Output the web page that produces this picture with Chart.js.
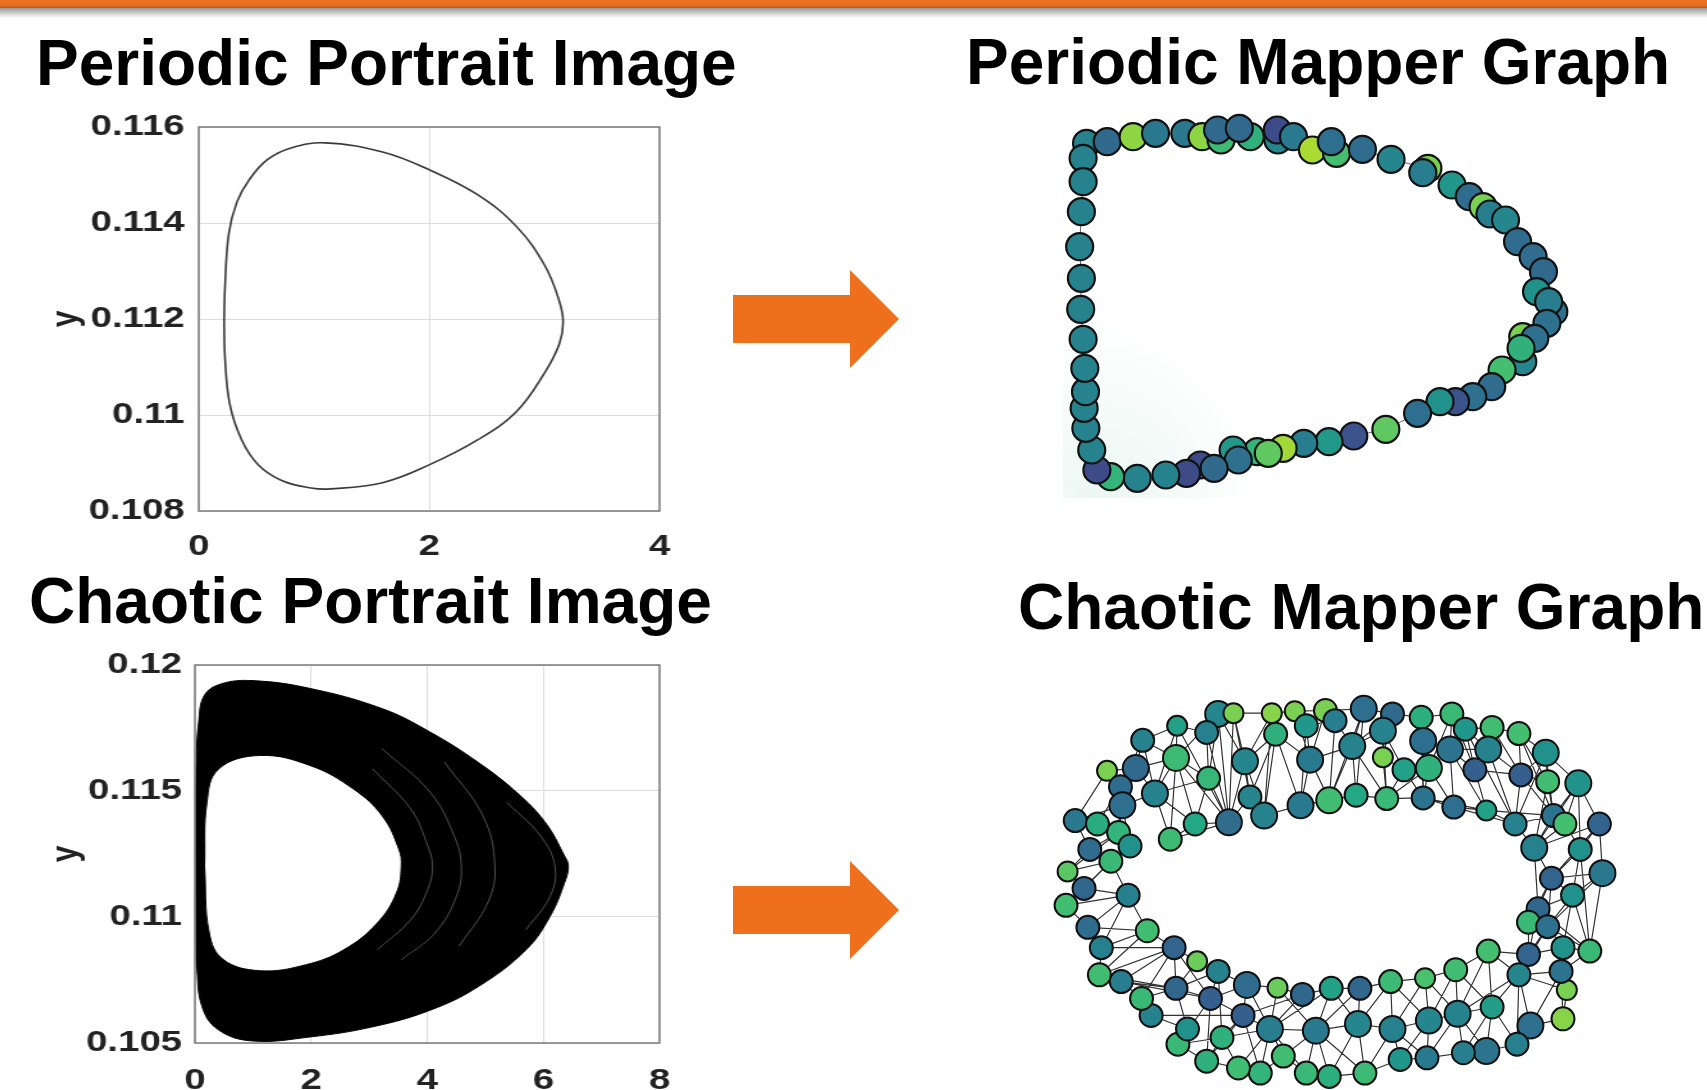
<!DOCTYPE html>
<html>
<head>
<meta charset="utf-8">
<script src="https://cdn.jsdelivr.net/npm/chart.js@4.4.1/dist/chart.umd.min.js"></script>
<style>
    html, body { margin: 0; padding: 0; background: #fff; }
    body { width: 1707px; height: 1090px; position: relative; overflow: hidden; font-family: 'Liberation Sans', Arial, sans-serif; }
    .bar { position: absolute; left: 0; top: 0; width: 1707px; height: 8px; background: linear-gradient(#ec7424, #e56f1f 70%, #b65a1c); }
    .shadow { position: absolute; left: 0; top: 8px; width: 1707px; height: 10px; background: linear-gradient(rgba(110,110,110,0.7), rgba(255,255,255,0)); }
    .title { position: absolute; font-weight: bold; font-size: 64px; line-height: 64px; white-space: nowrap; color: #000; }
    .stretch { position: absolute; transform: scaleX(1.28); transform-origin: 0 0; }
    .graph { position: absolute; }
    .glow { position: absolute; left: 1063px; top: 320px; width: 200px; height: 178px; background: radial-gradient(ellipse at 20% 100%, rgba(210,237,225,0.45), rgba(255,255,255,0) 70%); }
    svg.arrows { position: absolute; left: 0; top: 0; }
</style>
</head>
<body>
<div class="bar"></div>
<div class="shadow"></div>

<div class="title" style="left:36px; top:31px;">Periodic Portrait Image</div>
<div class="title" style="left:966px; top:30px;">Periodic Mapper Graph</div>
<div class="title" style="left:29px; top:569px;">Chaotic Portrait Image</div>
<div class="title" style="left:1018px; top:575px;">Chaotic Mapper Graph</div>

<div class="stretch" style="left:40px; top:100px;"><canvas id="periodicChart" width="500" height="470"></canvas></div>
<div class="stretch" style="left:40px; top:640px;"><canvas id="chaoticChart" width="500" height="450"></canvas></div>

<div class="glow"></div>
<div class="graph" style="left:1040px; top:100px;"><canvas id="periodicGraph" width="540" height="410"></canvas></div>
<div class="graph" style="left:1040px; top:680px;"><canvas id="chaoticGraph" width="600" height="410"></canvas></div>

<svg class="arrows" width="1707" height="1090">
    <polygon fill="#ee701d" points="733,295 850,295 850,270 899,319 850,368 850,343 733,343"/>
    <polygon fill="#ee701d" points="733,886 850,886 850,861 899,910 850,959 850,934 733,934"/>
</svg>

<script>
// ---- Periodic portrait: one closed orbit ----
const periodicX = [0.22, 0.228, 0.261, 0.332, 0.435, 0.601, 0.808, 1.098, 1.596, 2.0, 2.42, 2.757, 3.005, 3.13, 3.163,
    3.13, 3.005, 2.757, 2.42, 2.0, 1.596, 1.14, 0.974, 0.725, 0.518, 0.373, 0.27, 0.228, 0.22];
const periodicY = [0.11193, 0.11267, 0.11378, 0.11444, 0.11489, 0.11533, 0.11557, 0.11567, 0.11548, 0.11511, 0.11459, 0.11393, 0.11311, 0.11237, 0.11193,
    0.11148, 0.11089, 0.11007, 0.10948, 0.10896, 0.10859, 0.10846, 0.10848, 0.10863, 0.10896, 0.10948, 0.11022, 0.11119, 0.11193];
const periodicXTicks = [0, 2, 4];
const periodicXLabels = ['0', '2', '4'];
const periodicYTicks = [0.108, 0.110, 0.112, 0.114, 0.116];
const periodicYLabels = ['0.108', '0.11', '0.112', '0.114', '0.116'];

// ---- Chaotic portrait: outer and inner edge of the band, plus a few light streaks ----
const chaoticOuterX = [0.025, 0.017, 0.025, 0.066, 0.165, 0.45, 0.992, 1.983, 3.223, 4.05, 4.876, 5.537, 6.033, 6.364, 6.43,
    6.364, 6.116, 5.702, 4.876, 4.05, 3.058, 1.983, 0.992, 0.413, 0.124, 0.025];
const chaoticOuterY = [0.10816, 0.11215, 0.11614, 0.11774, 0.1188, 0.11925, 0.11938, 0.11907, 0.11827, 0.11734, 0.11614, 0.11495, 0.11375, 0.11242, 0.11202,
    0.11136, 0.11003, 0.1087, 0.10723, 0.1063, 0.10564, 0.10524, 0.10508, 0.10551, 0.10644, 0.10816];
const chaoticInnerX = [0.165, 0.207, 0.413, 1.116, 1.983, 2.727, 3.223, 3.512, 3.554, 3.471, 3.14, 2.562, 1.901, 1.116, 0.496, 0.248, 0.165];
const chaoticInnerY = [0.11202, 0.11455, 0.11588, 0.11641, 0.11601, 0.11508, 0.11402, 0.11269, 0.11202, 0.11096, 0.10976, 0.1087, 0.1081, 0.10787, 0.1083, 0.10936, 0.11202];
const streak1X = [3.058, 3.719, 4.008, 4.091, 4.008, 3.719, 3.14];
const streak1Y = [0.11588, 0.11428, 0.11282, 0.11202, 0.11109, 0.1099, 0.1087];
const streak2X = [3.223, 4.05, 4.463, 4.587, 4.504, 4.132, 3.554];
const streak2Y = [0.11668, 0.11495, 0.11322, 0.11202, 0.11082, 0.10936, 0.1083];
const streak3X = [4.298, 4.959, 5.165, 5.041, 4.545];
const streak3Y = [0.11614, 0.11402, 0.11202, 0.11056, 0.10883];
const streak4X = [5.372, 5.95, 6.198, 6.116, 5.702];
const streak4Y = [0.11455, 0.11322, 0.11202, 0.11082, 0.1095];
const chaoticXTicks = [0, 2, 4, 6, 8];
const chaoticXLabels = ['0', '2', '4', '6', '8'];
const chaoticYTicks = [0.105, 0.110, 0.115, 0.120];
const chaoticYLabels = ['0.105', '0.11', '0.115', '0.12'];

// ---- Periodic mapper graph: node layout, colour value (0-1), nodes chained in a ring ----
const periodicNodeX = [135, 195, 125, 270, 335, 420, 470, 525, 515, 610, 578, 690, 688, 735, 790, 860, 845, 935, 1018, 1125,
    1110, 1195, 1245, 1285, 1305, 1350, 1385, 1430, 1460, 1440, 1490, 1475, 1470, 1400, 1435, 1400, 1395, 1340, 1310, 1255,
    1205, 1160, 1095, 1003, 910, 838, 765, 705, 630, 662, 560, 575, 465, 505, 425, 365, 282, 205, 165, 150,
    133, 128, 132, 130, 125, 118, 120, 115, 120, 125];
const periodicNodeY = [130, 125, 175, 110, 100, 100, 110, 120, 90, 110, 85, 120, 90, 110, 150, 160, 125, 148, 178, 205,
    218, 255, 290, 320, 342, 360, 425, 470, 515, 575, 635, 605, 670, 710, 715, 785, 745, 810, 860, 890,
    905, 905, 940, 988, 1008, 1025, 1030, 1045, 1055, 1060, 1050, 1080, 1095, 1105, 1120, 1125, 1135, 1130, 1110, 1050,
    985, 925, 875, 805, 718, 628, 535, 440, 335, 245];
const periodicNodeVal = [0.44, 0.34, 0.44, 0.83, 0.40, 0.40, 0.83, 0.68, 0.34, 0.64, 0.34, 0.46, 0.23, 0.41, 0.87, 0.70, 0.36, 0.35, 0.46, 0.80,
    0.42, 0.52, 0.35, 0.80, 0.42, 0.46, 0.35, 0.35, 0.34, 0.50, 0.37, 0.42, 0.37, 0.80, 0.37, 0.46, 0.64, 0.70, 0.35, 0.37,
    0.25, 0.50, 0.36, 0.75, 0.25, 0.53, 0.42, 0.86, 0.65, 0.75, 0.53, 0.37, 0.23, 0.34, 0.23, 0.44, 0.44, 0.65, 0.23, 0.44,
    0.44, 0.44, 0.44, 0.44, 0.44, 0.44, 0.44, 0.44, 0.44, 0.44];

// ---- Chaotic mapper graph: node layout, colour value, cluster size, edges ----
const chaoticNodeX = [465, 505, 605, 665, 745, 845, 920, 995, 1075, 1110, 1180, 1250, 1320, 1405, 1460, 1468, 1435, 1375, 1365, 1280,
    1245, 1165, 1105, 1010, 940, 848, 755, 695, 635, 575, 518, 435, 360, 385, 290, 265, 212, 155, 160, 125,
    68, 115, 72, 130, 92, 175, 268, 358, 435, 250, 210, 215, 150, 205, 235, 185, 230, 300, 355, 440,
    340, 405, 493, 535, 548, 585, 615, 680, 705, 695, 770, 755, 815, 825, 895, 895, 905, 950, 1000, 1015,
    1000, 1070, 1080, 1135, 1165, 1170, 1240, 1255, 1325, 1340, 1370, 1290, 1410, 1335, 1390, 1300, 1275, 1325, 1365, 1275,
    1250, 1360, 1170, 1085, 1005, 915, 835, 760, 685, 620, 540, 465, 410, 350, 355, 445, 530, 600, 720, 830,
    920, 1015, 1090, 1180, 475, 280];
const chaoticNodeY = [100, 98, 98, 92, 90, 85, 100, 110, 100, 145, 140, 158, 215, 305, 425, 570, 800, 915, 1000, 1020,
    1075, 1095, 1100, 1115, 1120, 1160, 1170, 1160, 1110, 1160, 1145, 1125, 1075, 1030, 990, 940, 890, 870, 790, 730,
    665, 615, 565, 500, 415, 268, 178, 135, 155, 260, 315, 370, 425, 450, 490, 535, 635, 335, 230, 290,
    470, 425, 420, 240, 345, 400, 160, 370, 235, 135, 120, 355, 195, 340, 150, 228, 350, 265, 180, 260,
    348, 205, 375, 265, 385, 205, 425, 280, 300, 400, 425, 495, 500, 585, 635, 675, 715, 728, 790, 810,
    870, 860, 800, 855, 880, 890, 910, 910, 928, 908, 900, 860, 830, 790, 910, 940, 990, 1030, 1035, 1015,
    1030, 1005, 985, 965, 1055, 740];
const chaoticNodeVal = [0.46, 0.80, 0.82, 0.80, 0.80, 0.36, 0.34, 0.63, 0.67, 0.52, 0.69, 0.70, 0.50, 0.51, 0.32, 0.40, 0.67, 0.80, 0.82, 0.36,
    0.43, 0.38, 0.42, 0.41, 0.52, 0.68, 0.63, 0.67, 0.69, 0.65, 0.69, 0.64, 0.67, 0.50, 0.44, 0.67, 0.42, 0.69, 0.43, 0.35,
    0.69, 0.33, 0.74, 0.35, 0.40, 0.80, 0.44, 0.57, 0.43, 0.34, 0.35, 0.36, 0.62, 0.65, 0.50, 0.67, 0.43, 0.44, 0.68, 0.66,
    0.68, 0.60, 0.35, 0.46, 0.45, 0.44, 0.64, 0.41, 0.41, 0.52, 0.42, 0.69, 0.44, 0.60, 0.44, 0.80, 0.67, 0.57, 0.36, 0.64,
    0.38, 0.38, 0.36, 0.30, 0.57, 0.44, 0.43, 0.30, 0.69, 0.38, 0.70, 0.43, 0.50, 0.32, 0.50, 0.33, 0.67, 0.37, 0.50, 0.32,
    0.46, 0.38, 0.70, 0.69, 0.71, 0.68, 0.33, 0.57, 0.33, 0.77, 0.35, 0.44, 0.77, 0.32, 0.33, 0.30, 0.30, 0.42, 0.41, 0.45,
    0.43, 0.46, 0.44, 0.55, 0.64, 0.69];
const chaoticNodeSize = [3, 1, 1, 1, 2, 3, 2, 2, 2, 2, 2, 2, 3, 3, 2, 3, 2, 1, 2, 3,
    2, 3, 2, 2, 2, 2, 2, 2, 2, 2, 2, 2, 2, 2, 2, 2, 2, 2, 2, 2,
    2, 2, 1, 2, 2, 1, 2, 1, 2, 3, 2, 3, 2, 2, 2, 2, 2, 3, 3, 2,
    2, 2, 3, 3, 2, 3, 2, 3, 3, 2, 2, 3, 3, 2, 3, 1, 2, 2, 3, 3,
    2, 3, 2, 2, 1, 3, 2, 2, 2, 2, 2, 3, 2, 2, 2, 2, 2, 2, 2, 2,
    2, 2, 2, 2, 1, 2, 2, 2, 2, 1, 3, 2, 1, 2, 2, 2, 2, 3, 3, 3,
    3, 3, 3, 2, 2, 2];
const chaoticEdges = [
    [45, 49], [49, 50], [50, 51], [46, 49], [46, 47], [46, 58], [47, 48], [47, 58], [48, 0], [48, 59], [0, 1], [0, 59], [0, 62], [0, 63],
    [1, 2], [1, 62], [2, 66], [2, 3], [3, 4], [4, 5], [3, 69], [4, 70], [5, 6], [5, 72], [6, 7], [6, 74], [7, 8], [7, 78], [8, 9], [8, 81],
    [9, 10], [9, 85], [10, 11], [10, 85], [11, 12], [11, 88], [12, 13], [12, 88], [12, 87], [13, 14], [13, 92], [13, 90], [14, 92], [14, 15],
    [15, 94], [15, 16], [15, 93], [16, 94], [16, 98], [16, 92], [17, 18], [17, 101], [17, 98], [18, 19], [19, 20], [19, 100], [19, 101],
    [20, 21], [21, 22], [21, 123], [22, 23], [22, 122], [23, 24], [23, 121], [24, 25], [24, 120], [25, 26], [25, 119], [26, 27], [26, 118],
    [27, 28], [27, 118], [28, 29], [28, 117], [29, 30], [29, 117], [30, 31], [30, 124], [31, 32], [31, 124], [32, 33], [32, 115], [33, 34],
    [33, 114], [34, 35], [35, 36], [35, 114], [36, 37], [36, 113], [37, 38], [38, 39], [38, 125], [39, 40], [39, 56], [40, 41], [41, 42],
    [41, 56], [42, 43], [43, 44], [43, 55], [44, 45], [44, 52],
    [49, 51], [49, 57], [50, 52], [51, 53], [51, 57], [52, 53], [53, 54], [54, 55], [55, 56], [56, 125], [57, 58], [57, 60], [57, 61],
    [58, 59], [58, 60], [58, 61], [59, 62], [60, 61], [61, 62], [62, 63], [62, 64], [63, 64], [63, 66], [64, 65], [65, 67], [66, 68],
    [66, 67], [67, 68], [67, 71], [68, 69], [68, 72], [69, 70], [70, 72], [71, 73], [72, 73], [72, 74], [73, 76], [74, 75], [74, 77],
    [75, 76], [76, 77], [77, 79], [78, 79], [78, 81], [80, 82], [81, 83], [81, 82], [82, 84], [83, 85], [83, 84], [84, 86], [85, 87],
    [86, 87], [86, 89], [87, 88], [88, 89], [89, 90], [90, 92], [89, 91], [91, 93], [92, 93], [93, 94], [93, 95], [94, 97], [95, 96],
    [96, 97], [97, 98], [96, 99], [97, 99], [99, 100], [98, 101], [99, 102], [100, 101], [100, 123], [102, 103], [102, 123], [103, 104],
    [103, 122], [104, 105], [104, 121], [105, 106], [105, 120], [106, 107], [106, 119], [107, 108], [107, 118], [108, 109], [108, 117],
    [109, 110], [110, 111], [110, 116], [111, 112], [111, 115], [112, 113], [113, 125], [113, 114], [114, 115], [115, 116], [116, 117],
    [117, 118], [118, 119], [119, 120], [120, 121], [121, 122], [122, 123], [116, 124], [124, 117], [79, 80], [76, 80],
    [0, 58], [1, 63], [2, 63], [3, 68], [4, 68], [5, 71], [6, 72], [7, 79], [8, 79], [9, 83], [10, 87], [11, 87], [46, 50], [47, 57],
    [48, 62], [40, 55], [42, 53], [44, 51], [38, 56], [37, 114], [36, 115], [34, 116], [32, 124], [30, 117], [28, 118], [26, 119],
    [24, 121], [22, 123], [20, 100], [18, 101], [16, 97], [14, 91], [13, 89], [12, 86], [111, 124], [110, 117], [109, 118], [107, 119],
    [105, 121], [104, 122], [103, 123], [102, 100], [39, 125], [37, 125],
    [47, 62], [1, 64], [2, 65], [66, 65], [66, 64], [69, 67], [70, 71], [5, 73], [72, 71], [74, 76], [75, 77], [6, 75], [78, 80],
    [7, 80], [8, 83], [81, 84], [9, 86], [85, 86], [10, 83], [11, 89], [12, 89], [13, 91], [88, 91], [14, 93], [92, 94], [15, 97],
    [16, 95], [94, 95], [93, 96], [98, 99], [16, 101], [101, 18], [17, 100], [100, 122], [102, 122], [103, 121], [104, 120],
    [105, 119], [106, 118], [107, 117], [108, 116], [109, 117], [110, 115], [111, 114], [112, 114], [113, 115], [31, 115], [31, 116],
    [29, 116], [27, 117], [25, 118], [25, 120], [23, 120], [23, 122], [21, 122], [20, 123], [36, 114], [35, 113], [37, 113],
    [38, 113], [40, 56], [41, 55], [42, 55], [43, 53], [44, 53], [45, 50], [46, 57], [50, 53], [51, 54], [52, 54], [49, 58],
    [58, 62], [59, 61], [60, 62], [57, 59], [63, 65], [68, 71], [67, 73], [72, 76], [76, 79], [77, 80], [79, 82], [80, 84],
    [81, 85], [82, 86], [83, 87], [84, 89], [87, 89], [86, 91], [90, 91], [91, 95], [93, 97], [94, 98], [97, 100], [95, 99]
];

Chart.defaults.font.family = "'Liberation Sans', Arial, sans-serif";

const viridisStops = ['#440154', '#482475', '#414487', '#355f8d', '#2a788e', '#21918c', '#22a884', '#44bf70', '#7ad151', '#bddf26', '#fde725'];

function hexToRgb(h) {
    return [parseInt(h.slice(1, 3), 16), parseInt(h.slice(3, 5), 16), parseInt(h.slice(5, 7), 16)];
}

function viridis(t) {
    const s = Math.max(0, Math.min(1, t)) * 10;
    const i = Math.min(9, Math.floor(s));
    const f = s - i;
    const a = hexToRgb(viridisStops[i]);
    const b = hexToRgb(viridisStops[i + 1]);
    const c = a.map((v, k) => Math.round(v + (b[k] - v) * f));
    return `rgb(${c[0]}, ${c[1]}, ${c[2]})`;
}

function toPoints(xs, ys) {
    return xs.map((x, i) => ({ x: x, y: ys[i] }));
}

// box round the plot area, like the MATLAB axes
const boxBorder = {
    id: 'boxBorder',
    afterDatasetsDraw(chart) {
        const { ctx, chartArea: a } = chart;
        ctx.save();
        ctx.strokeStyle = '#7a7a7a';
        ctx.lineWidth = 1.5;
        ctx.strokeRect(a.left, a.top, a.right - a.left, a.bottom - a.top);
        ctx.restore();
    }
};

function portraitOptions(o) {
    const tickFont = { size: 30, weight: 'bold' };
    return {
        responsive: false,
        animation: false,
        events: [],
        layout: { autoPadding: false, padding: { top: o.padTop, right: o.padRight, left: 0, bottom: 0 } },
        plugins: { legend: { display: false }, tooltip: { enabled: false } },
        scales: {
            x: {
                type: 'linear', min: o.xTicks[0], max: o.xTicks[o.xTicks.length - 1],
                afterBuildTicks: s => { s.ticks = o.xTicks.map(v => ({ value: v })); },
                afterFit: s => { s.height = o.xHeight; s.paddingLeft = 0; s.paddingRight = 0; },
                grid: { color: '#dcdcdc', drawTicks: false },
                border: { display: false },
                ticks: { padding: o.xPad, color: '#222', font: tickFont, maxRotation: 0, autoSkip: false,
                    callback: (v, i) => o.xLabels[i] }
            },
            y: {
                type: 'linear', min: o.yTicks[0], max: o.yTicks[o.yTicks.length - 1],
                afterBuildTicks: s => { s.ticks = o.yTicks.map(v => ({ value: v })); },
                afterFit: s => { s.width = o.yWidth; s.paddingTop = 0; s.paddingBottom = 0; },
                grid: { color: '#dcdcdc', drawTicks: false },
                border: { display: false },
                ticks: { padding: o.yPad, color: '#222', font: tickFont, autoSkip: false,
                    callback: (v, i) => o.yLabels[i] },
                title: { display: true, text: 'y', color: '#222', font: tickFont, padding: { top: 3, bottom: 0 } }
            }
        }
    };
}

// Periodic portrait
new Chart(document.getElementById('periodicChart'), {
    type: 'scatter',
    data: {
        datasets: [{
            data: toPoints(periodicX, periodicY),
            showLine: true, tension: 0.4, borderColor: '#3a3a3a', borderWidth: 1.6,
            pointRadius: 0, fill: false
        }]
    },
    options: portraitOptions({
        padTop: 27, padRight: 16, xHeight: 59, yWidth: 124, xPad: 18, yPad: 11,
        xTicks: periodicXTicks, xLabels: periodicXLabels, yTicks: periodicYTicks, yLabels: periodicYLabels
    }),
    plugins: [boxBorder]
});

// Chaotic portrait
const streak = (xs, ys) => ({
    data: toPoints(xs, ys), showLine: true, tension: 0.4, borderColor: 'rgba(255,255,255,0.3)',
    borderWidth: 1, pointRadius: 0, fill: false, order: 1
});

new Chart(document.getElementById('chaoticChart'), {
    type: 'scatter',
    data: {
        datasets: [
            { data: toPoints(chaoticOuterX, chaoticOuterY), showLine: true, tension: 0.4, borderColor: '#000',
              borderWidth: 1, pointRadius: 0, fill: 'shape', backgroundColor: '#000', order: 3 },
            { data: toPoints(chaoticInnerX, chaoticInnerY), showLine: true, tension: 0.4, borderColor: '#000',
              borderWidth: 1, pointRadius: 0, fill: 'shape', backgroundColor: '#fff', order: 2 },
            streak(streak1X, streak1Y),
            streak(streak2X, streak2Y),
            streak(streak3X, streak3Y),
            streak(streak4X, streak4Y)
        ]
    },
    options: portraitOptions({
        padTop: 25, padRight: 16, xHeight: 47, yWidth: 121, xPad: 20, yPad: 10,
        xTicks: chaoticXTicks, xLabels: chaoticXLabels, yTicks: chaoticYTicks, yLabels: chaoticYLabels
    }),
    plugins: [boxBorder]
});

// Mapper graphs
function edgePoints(xs, ys, pairs) {
    const pts = [];
    pairs.forEach(([a, b]) => {
        pts.push({ x: xs[a], y: ys[a] }, { x: xs[b], y: ys[b] }, { x: xs[b], y: null });
    });
    return pts;
}

function graphOptions(xMax, yMax) {
    return {
        responsive: false,
        animation: false,
        events: [],
        layout: { autoPadding: false, padding: 0 },
        plugins: { legend: { display: false }, tooltip: { enabled: false } },
        scales: {
            x: { type: 'linear', min: 0, max: xMax, display: false },
            y: { type: 'linear', min: 0, max: yMax, reverse: true, display: false }
        }
    };
}

const ringPairs = periodicNodeX.map((_, i) => [i, (i + 1) % periodicNodeX.length]);

new Chart(document.getElementById('periodicGraph'), {
    type: 'scatter',
    data: {
        datasets: [
            { data: toPoints(periodicNodeX, periodicNodeY), pointRadius: 13.5, pointBorderWidth: 2.2,
              pointBorderColor: '#111', pointBackgroundColor: periodicNodeVal.map(viridis), clip: false, order: 0 },
            { data: edgePoints(periodicNodeX, periodicNodeY, ringPairs), showLine: true, borderColor: '#666',
              borderWidth: 1, pointRadius: 0, clip: false, order: 1 }
        ]
    },
    options: graphOptions(1566, 1230)
});

new Chart(document.getElementById('chaoticGraph'), {
    type: 'scatter',
    data: {
        datasets: [
            { data: toPoints(chaoticNodeX, chaoticNodeY), pointRadius: chaoticNodeSize.map(s => 8.5 + 1.5 * s),
              pointBorderWidth: 2, pointBorderColor: '#111', pointBackgroundColor: chaoticNodeVal.map(viridis),
              clip: false, order: 0 },
            { data: edgePoints(chaoticNodeX, chaoticNodeY, chaoticEdges), showLine: true, borderColor: '#333',
              borderWidth: 1.2, pointRadius: 0, clip: false, order: 1 }
        ]
    },
    options: graphOptions(1566, 1210)
});
</script>
</body>
</html>
